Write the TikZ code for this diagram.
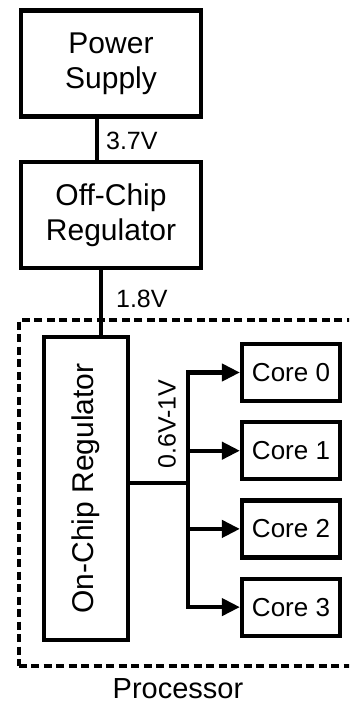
\documentclass[tikz,border=0pt]{standalone}
\usepackage{fontspec}
\setmainfont{Liberation Sans}
\usetikzlibrary{arrows.meta,positioning,calc}
\tikzset{
  box/.style={draw, line width=4.2pt, align=center, inner sep=0pt},
  bigbox/.style={box, minimum width=180pt, minimum height=106pt, font=\fontsize{30}{35}\selectfont},
  core/.style={box, minimum width=98pt, minimum height=57pt, font=\fontsize{26}{30}\selectfont},
  group/.style={draw, line width=4pt, dash pattern=on 8pt off 4.5pt},
  wire/.style={line width=4.2pt},
  arrow/.style={wire, -{Triangle[length=18pt,width=17pt]}},
  volt/.style={font=\fontsize{25}{30}\selectfont, inner sep=0pt},
}

\begin{document}
\begin{tikzpicture}[x=1pt, y=-1pt]
  \useasboundingbox (0,0) rectangle (349,706);

  \node[bigbox] (supply) at (111,63.5) {Power\\Supply};
  \node[bigbox] (offchip) at (111,215) {Off-Chip\\Regulator};
  \begin{scope}
    \clip (0,0) rectangle (349,706);
    \node[group, minimum width=345pt, minimum height=346pt] (processor) at (191,493) {};
  \end{scope}
  \node[font=\fontsize{29}{34}\selectfont, inner sep=0pt, anchor=base] (proclabel) at (178,698) {Processor};

  \node[box, minimum width=84pt, minimum height=303pt, font=\fontsize{30}{35}\selectfont] (onchip) at (86,488.5) {\rotatebox{90}{On-Chip Regulator}};

  \node[core] (core0) at (291,372.5) {Core 0};
  \node[core, below=17pt of core0] (core1) {Core 1};
  \node[core, below=17pt of core1] (core2) {Core 2};
  \node[core, below=17pt of core2] (core3) {Core 3};

  % supply chain
  \draw[wire] ([xshift=-14pt]supply.south) -- ([xshift=-14pt]offchip.north)
    node[volt, midway, right=7pt, yshift=-2pt] {3.7V};
  \coordinate (feed) at ([xshift=15pt]onchip.north);
  \draw[wire] (feed |- offchip.south) -- (feed)
    node[volt, pos=0.45, right=13pt] {1.8V};

  % on-chip distribution
  \coordinate (bus) at (188,483);
  \draw[wire] (onchip.east |- bus) -- (bus);
  \draw[wire, line cap=rect] (bus |- core0.west) -- (bus |- core3.west);
  \foreach \i in {0,...,3}
    \draw[arrow] (bus |- core\i.west) -- (core\i.west);
  \node[volt, rotate=90] (range) at (167,424) {0.6V-1V};
\end{tikzpicture}
\end{document}
